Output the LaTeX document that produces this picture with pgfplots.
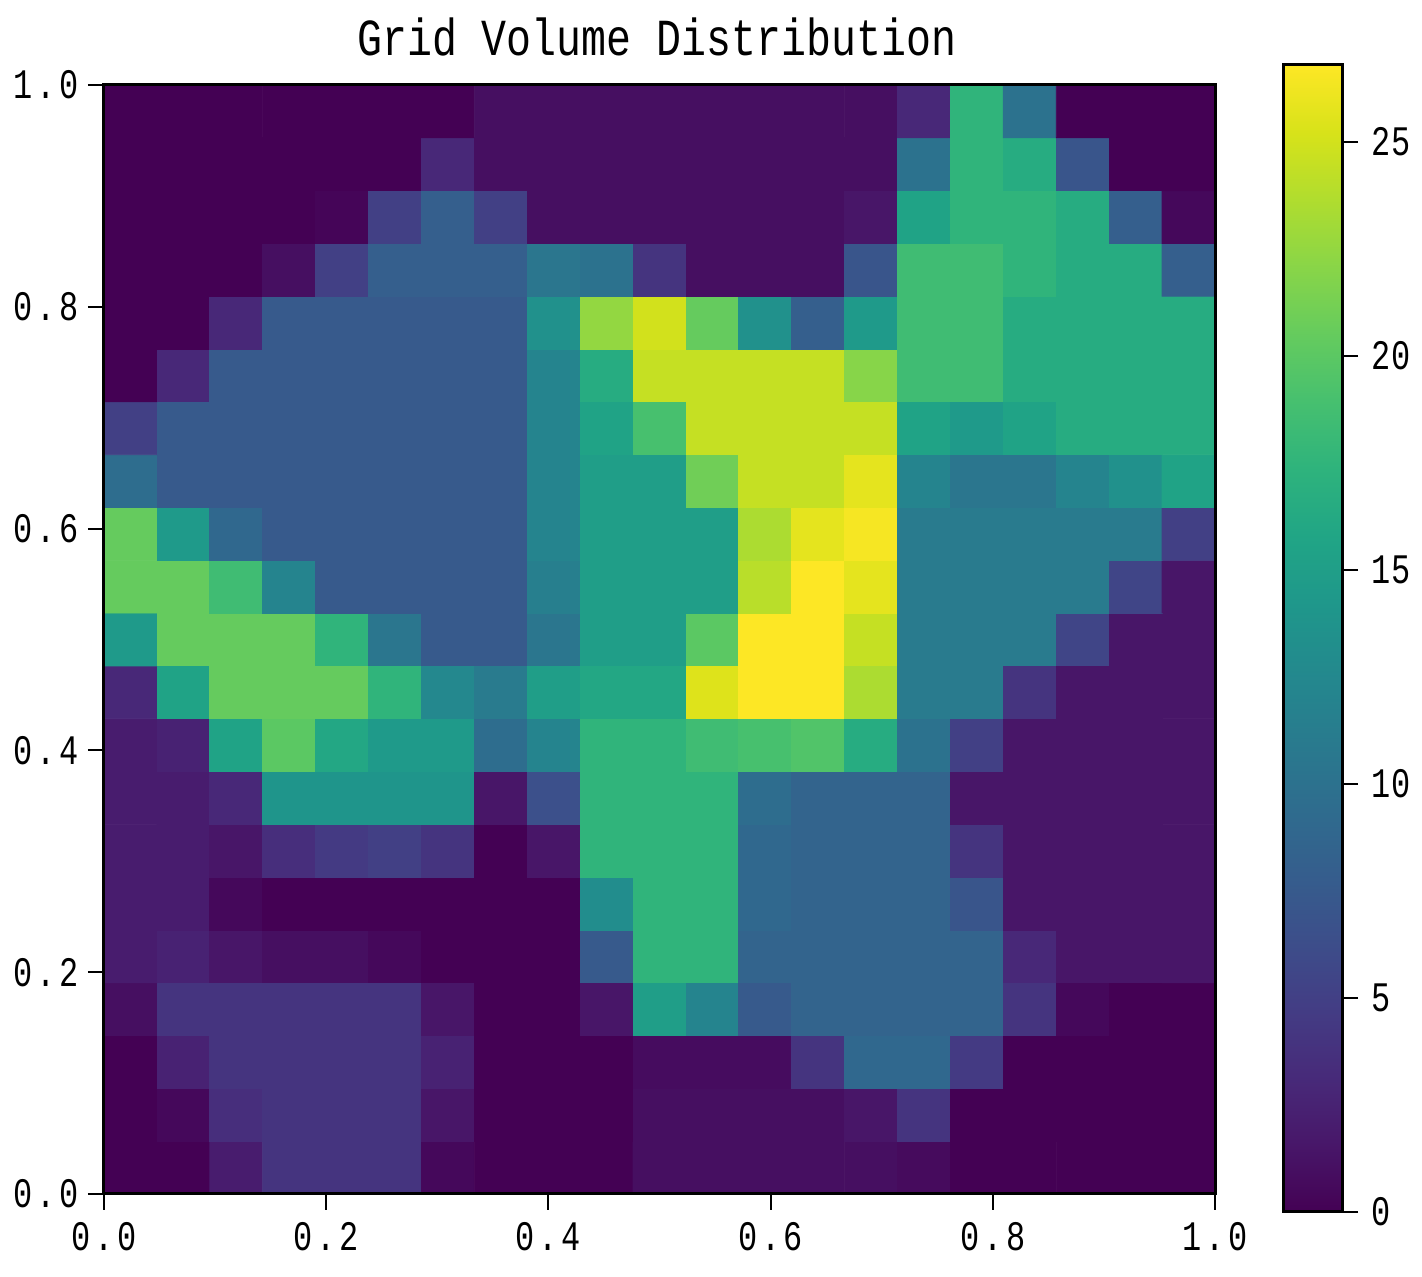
\documentclass[border=0pt]{standalone}
\usepackage{fontspec}
\usepackage{pgfplots}
\pgfplotsset{compat=1.18}
\newfontfamily\tickfont[FakeStretch=0.76,LetterSpace=9]{Liberation Mono}
\newfontfamily\cbfont[FakeStretch=0.76,LetterSpace=3]{Liberation Mono}
\newfontfamily\titlefont[FakeStretch=0.8]{Liberation Mono}
\begin{document}
\begin{tikzpicture}
\path[use as bounding box] (-52pt,-41.5pt) rectangle (659pt,597pt);
\begin{axis}[
  at={(0pt,0pt)}, anchor=south west,
  scale only axis, width=555.5pt, height=554.5pt,
  xmin=0, xmax=1, ymin=0, ymax=1,
  axis on top,
  axis line style={line width=1.5pt},
  tick align=outside, tick pos=left,
  major tick length=8pt,
  every tick/.style={black, line width=1pt},
  xtick={0,0.2,0.4,0.6,0.8,1},
  ytick={0,0.2,0.4,0.6,0.8,1},
  xticklabels={0.0,0.2,0.4,0.6,0.8,1.0},
  yticklabels={0.0,0.2,0.4,0.6,0.8,1.0},
  x tick label style={font=\tickfont\fontsize{21}{21}\selectfont, yshift=-2.5pt},
  y tick label style={font=\tickfont\fontsize{21}{21}\selectfont, xshift=-1pt},
  title={Grid Volume Distribution},
  title style={font=\titlefont\fontsize{26}{26}\selectfont, at={(0.4975,1)}, anchor=south, yshift=5pt},
  colormap/viridis,
  point meta min=0, point meta max=26.8,
]
\addplot[matrix plot*, mesh/cols=21, point meta=explicit]
 table[row sep=\\, header=false, x expr={(mod(\coordindex,21)+0.5)/21}, y expr={(floor((\coordindex+0.5)/21)+0.5)/21}, meta index=0] {
0\\0\\2\\4\\4\\4\\0.5\\0\\0\\0\\1\\1\\1\\1\\1\\0.7\\0\\0\\0\\0\\0\\
0\\0.5\\3.5\\4\\4\\4\\1.5\\0\\0\\0\\1\\1\\1\\1\\1.5\\4\\0\\0\\0\\0\\0\\
0\\2.5\\4\\4\\4\\4\\2.5\\0\\0\\0\\0.8\\0.8\\0.8\\4\\9\\9\\4.5\\0\\0\\0\\0\\
1\\4\\4\\4\\4\\4\\1.5\\0\\0\\1.5\\15\\12\\7.5\\8.5\\8.5\\8.5\\8.5\\4\\0.5\\0\\0\\
2\\2.5\\1.5\\1\\1\\0.5\\0\\0\\0\\7.5\\17.5\\17.5\\8.5\\8.5\\8.5\\8.5\\8.5\\3\\1.5\\1.5\\1.5\\
2\\2\\0.5\\0\\0\\0\\0\\0\\0\\13\\17.5\\17.5\\9\\8.5\\8.5\\8.5\\7\\1.5\\1.5\\1.5\\1.5\\
2\\2\\1.5\\3.5\\4.5\\5\\4\\0\\1.5\\17.5\\17.5\\17.5\\9\\8.5\\8.5\\8.5\\4\\1.5\\1.5\\1.5\\1.5\\
2\\2\\3\\14\\14\\14\\14\\1.5\\6.5\\17.5\\17.5\\17.5\\9.5\\8.5\\8.5\\8.5\\1.5\\1.5\\1.5\\1.5\\1.5\\
2\\2.5\\15.5\\20\\16\\14.5\\14.5\\9.5\\12\\17.5\\17.5\\18.5\\19\\19.5\\16.5\\10\\5\\1.5\\1.5\\1.5\\1.5\\
3\\15.5\\20.5\\20.5\\20.5\\17.5\\12.5\\11\\15\\16\\16\\25.5\\26.8\\26.8\\23.5\\11\\11\\4\\1.5\\1.5\\1.5\\
14.5\\20.5\\20.5\\20.5\\17.5\\10.5\\7.5\\7.5\\10.5\\15\\15\\20\\26.8\\26.8\\24.5\\11\\11\\11\\5.5\\1.5\\1.5\\
20.5\\20.5\\18.5\\12\\7.5\\7.5\\7.5\\7.5\\11.5\\15\\15\\15\\24\\26.8\\25.8\\11\\11\\11\\11\\5.5\\1.5\\
20.5\\14.5\\9\\7.5\\7.5\\7.5\\7.5\\7.5\\12\\15\\15\\15\\23.5\\25.8\\26.5\\11\\11\\11\\11\\11\\5\\
9.5\\7.5\\7.5\\7.5\\7.5\\7.5\\7.5\\7.5\\12\\15\\15\\21\\24.5\\24.5\\25.8\\12\\10.5\\10.5\\12\\13.5\\15.5\\
5\\7.5\\7.5\\7.5\\7.5\\7.5\\7.5\\7.5\\12\\15.5\\19\\24.5\\24.5\\24.5\\24.5\\15.5\\14.5\\15.5\\16.5\\16.5\\16.5\\
0\\3\\7.5\\7.5\\7.5\\7.5\\7.5\\7.5\\12\\16.5\\24.5\\24.5\\24.5\\24.5\\22\\18.5\\18.5\\16.5\\16.5\\16.5\\16.5\\
0\\0\\3\\7.5\\7.5\\7.5\\7.5\\7.5\\13.5\\22.5\\25\\20.5\\13.5\\8\\14.5\\18.5\\18.5\\16.5\\16.5\\16.5\\16.5\\
0\\0\\0\\1\\5\\8\\8\\8\\10.5\\10\\4\\1\\1\\1\\7\\18.5\\18.5\\17.5\\16.5\\16.5\\8\\
0\\0\\0\\0\\0.3\\5\\8\\5\\1\\1\\1\\1\\1\\1\\1.5\\15.5\\17.5\\17.5\\16.5\\8\\0.5\\
0\\0\\0\\0\\0\\0\\3\\1\\1\\1\\1\\1\\1\\1\\1\\10\\17.5\\16.5\\7\\0\\0\\
0\\0\\0\\0\\0\\0\\0\\1\\1\\1\\1\\1\\1\\1\\1\\3\\17.5\\10\\0\\0\\0\\
};
\end{axis}
\begin{axis}[
  at={(589.5pt,-9pt)}, anchor=south west,
  scale only axis, width=29.5pt, height=573.5pt,
  xmin=0, xmax=1, ymin=0, ymax=26.8,
  axis on top,
  axis line style={line width=1.5pt},
  xtick=\empty,
  ytick={0,5,10,15,20,25},
  yticklabels={0,5,10,15,20,25},
  ytick pos=right, yticklabel pos=right,
  tick align=outside,
  major tick length=8pt,
  every tick/.style={black, line width=1pt},
  y tick label style={font=\cbfont\fontsize{21}{21}\selectfont, xshift=3pt},
  colormap/viridis,
  point meta min=0, point meta max=26.8,
]
\addplot[surf, shader=interp, mesh/cols=2, point meta=y] coordinates {
(0,0)(1,0)
(0,5)(1,5)
(0,10)(1,10)
(0,15)(1,15)
(0,20)(1,20)
(0,25)(1,25)
(0,26.8)(1,26.8)
};
\end{axis}
\end{tikzpicture}
\end{document}
